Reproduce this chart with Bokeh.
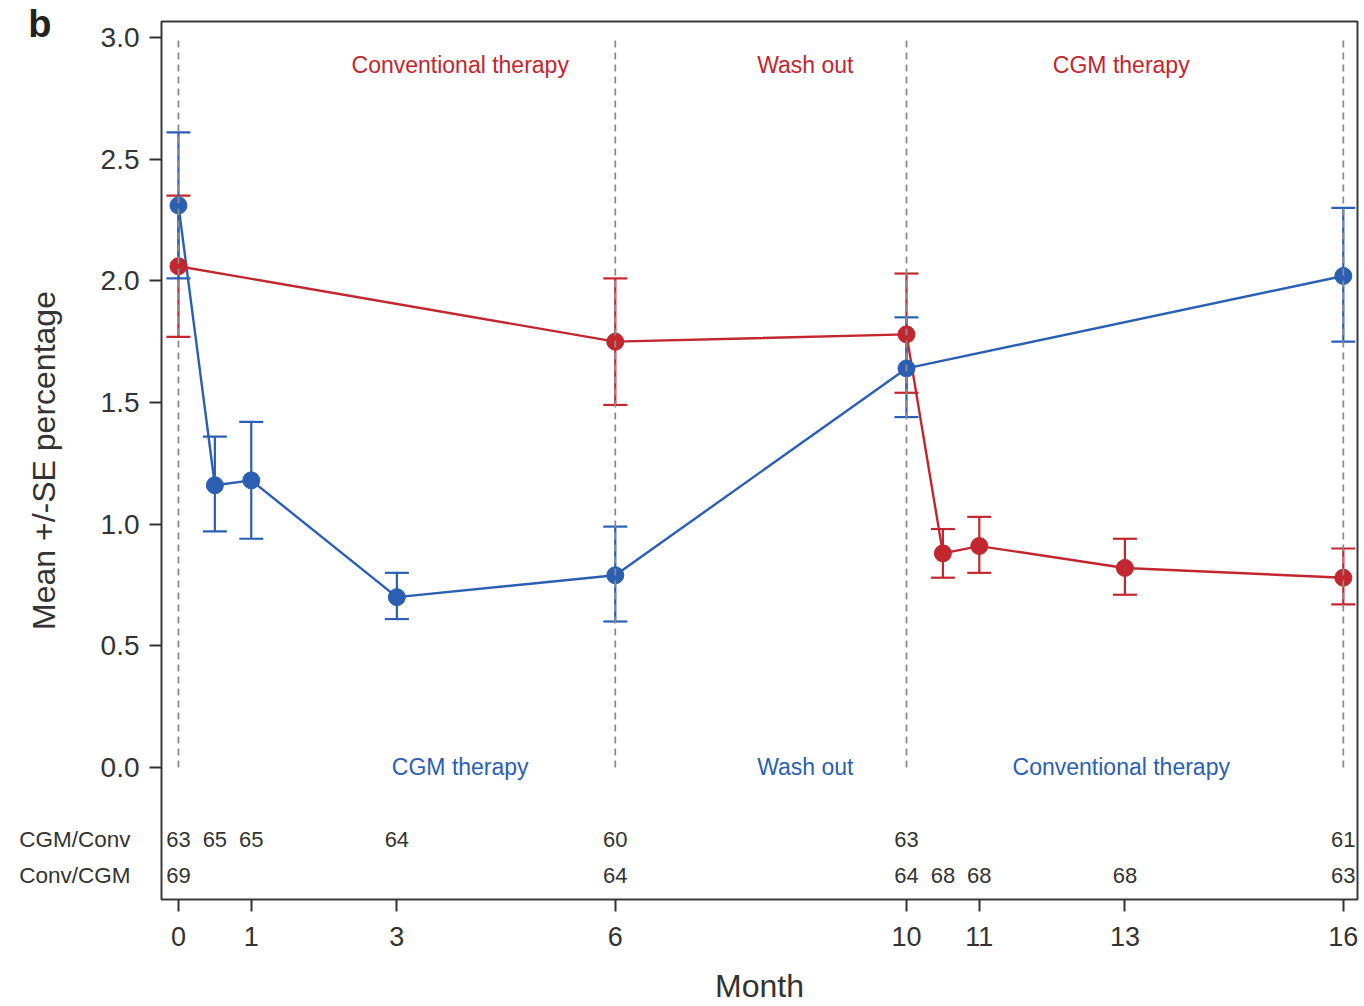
from bokeh.plotting import figure
from bokeh.models import (Range1d, FixedTicker, ColumnDataSource, Whisker, TeeHead,
                          PrintfTickFormatter, LinearAxis)
from bokeh.core.properties import value
from bokeh.embed import file_html
from bokeh.resources import INLINE

# ---- data ----
months_cgm = [0, 0.5, 1, 3, 6, 10, 16]
mean_cgm = [2.31, 1.16, 1.18, 0.70, 0.79, 1.64, 2.02]
upper_cgm = [2.61, 1.36, 1.42, 0.80, 0.99, 1.85, 2.30]
lower_cgm = [2.01, 0.97, 0.94, 0.61, 0.60, 1.44, 1.75]

months_conv = [0, 6, 10, 10.5, 11, 13, 16]
mean_conv = [2.06, 1.75, 1.78, 0.88, 0.91, 0.82, 0.78]
upper_conv = [2.35, 2.01, 2.03, 0.98, 1.03, 0.94, 0.90]
lower_conv = [1.77, 1.49, 1.54, 0.78, 0.80, 0.71, 0.67]

n_cgm_conv = ["63", "65", "65", "64", "60", "63", "61"]
n_conv_cgm = ["69", "64", "64", "68", "68", "68", "63"]
row_names = ["CGM/Conv", "Conv/CGM"]
row_y = [-0.296, -0.444]

phase_bounds = [0, 6, 10, 16]
phase_x = [3.87, 8.61, 12.95]
phase_top = ["Conventional therapy", "Wash out", "CGM therapy"]
phase_bottom = ["CGM therapy", "Wash out", "Conventional therapy"]
phase_top_y = 2.885
phase_bottom_y = 0.0

panel_letter = "b"
panel_letter_y = 3.057

x_ticks = [0, 1, 3, 6, 10, 11, 13, 16]
y_ticks = [0.0, 0.5, 1.0, 1.5, 2.0, 2.5, 3.0]

BLUE = "#2b5fb4"
RED = "#c2262e"
FONT = "Liberation Sans"
TXT = "#333333"

p = figure(width=1364, height=1006,
           x_range=Range1d(-0.233, 16.195), y_range=Range1d(-0.5425, 3.0658),
           output_backend="svg", toolbar_location=None,
           min_border_left=161, min_border_right=7, min_border_top=21, min_border_bottom=107)
p.xgrid.visible = False
p.ygrid.visible = False
p.outline_line_color = "#3a3a3a"
p.outline_line_width = 2
p.outline_line_alpha = 1
p.background_fill_color = "white"
p.border_fill_color = "white"

for ax in (p.xaxis[0], p.yaxis[0]):
    ax.axis_line_color = None
    ax.major_tick_line_color = "#333333"
    ax.major_tick_line_width = 2
    ax.major_tick_out = 12
    ax.major_tick_in = 0
    ax.minor_tick_line_color = None
    ax.major_label_text_font = FONT
    ax.major_label_text_color = TXT
    ax.axis_label_text_font = FONT
    ax.axis_label_text_font_size = "32px"
    ax.axis_label_text_font_style = "normal"
    ax.axis_label_text_color = TXT

p.xaxis.major_label_text_font_size = "27px"
p.yaxis.major_label_text_font_size = "28px"
p.xaxis.ticker = FixedTicker(ticks=x_ticks)
p.yaxis.ticker = FixedTicker(ticks=y_ticks)
p.yaxis.formatter = PrintfTickFormatter(format="%.1f")
p.xaxis.axis_label = "Month"
p.yaxis.axis_label = "Mean +/-SE percentage"
p.xaxis.major_label_standoff = 15
p.yaxis.major_label_standoff = 10
p.xaxis.axis_label_standoff = 19
p.yaxis.axis_label_standoff = 36

# row labels of the count table (outer left axis, no ticks)
rows_axis = LinearAxis(ticker=FixedTicker(ticks=row_y),
                       major_label_overrides={row_y[0]: row_names[0], row_y[1]: row_names[1]},
                       axis_line_color=None, major_tick_line_color=None, minor_tick_line_color=None,
                       major_tick_out=0, major_tick_in=0, major_label_standoff=-108,
                       major_label_text_font=FONT, major_label_text_font_size="22.5px",
                       major_label_text_color=TXT)
p.add_layout(rows_axis, "left")

# panel letter
letter_axis = LinearAxis(ticker=FixedTicker(ticks=[panel_letter_y]),
                         major_label_overrides={panel_letter_y: panel_letter},
                         axis_line_color=None, major_tick_line_color=None, minor_tick_line_color=None,
                         major_tick_out=0, major_tick_in=0, major_label_standoff=-35,
                         major_label_text_font=FONT, major_label_text_font_size="38px",
                         major_label_text_font_style="bold", major_label_text_color="#222222")
p.add_layout(letter_axis, "left")

src_cgm = ColumnDataSource(dict(x=months_cgm, y=mean_cgm, up=upper_cgm, lo=lower_cgm))
src_conv = ColumnDataSource(dict(x=months_conv, y=mean_conv, up=upper_conv, lo=lower_conv))

for src, col in ((src_conv, RED), (src_cgm, BLUE)):
    w = Whisker(source=src, base="x", upper="up", lower="lo", dimension="height",
                line_color=col, line_width=2.2,
                upper_head=TeeHead(size=24, line_color=col, line_width=2.2),
                lower_head=TeeHead(size=24, line_color=col, line_width=2.2))
    p.add_layout(w)

p.line("x", "y", source=src_conv, line_color=RED, line_width=2.4)
p.line("x", "y", source=src_cgm, line_color=BLUE, line_width=2.4)
p.scatter("x", "y", source=src_conv, size=17, fill_color=RED, line_color=RED)
p.scatter("x", "y", source=src_cgm, size=17, fill_color=BLUE, line_color=BLUE)

p.segment(x0=phase_bounds, x1=phase_bounds, y0=[0.0] * len(phase_bounds), y1=[3.0] * len(phase_bounds),
          line_color="#8c8c8c", line_width=1.8, line_dash="7 5")

p.text(x=phase_x, y=[phase_top_y] * 3, text=phase_top, text_color=RED,
       text_font=value(FONT), text_font_size="23px", text_align="center", text_baseline="middle")
p.text(x=phase_x, y=[phase_bottom_y] * 3, text=phase_bottom, text_color=BLUE,
       text_font=value(FONT), text_font_size="23px", text_align="center", text_baseline="middle")

p.text(x=months_cgm, y=[row_y[0]] * len(months_cgm), text=n_cgm_conv, text_color=TXT,
       text_font=value(FONT), text_font_size="22px", text_align="center", text_baseline="middle")
p.text(x=months_conv, y=[row_y[1]] * len(months_conv), text=n_conv_cgm, text_color=TXT,
       text_font=value(FONT), text_font_size="22px", text_align="center", text_baseline="middle")

open("out.html", "w").write(file_html(p, INLINE))
